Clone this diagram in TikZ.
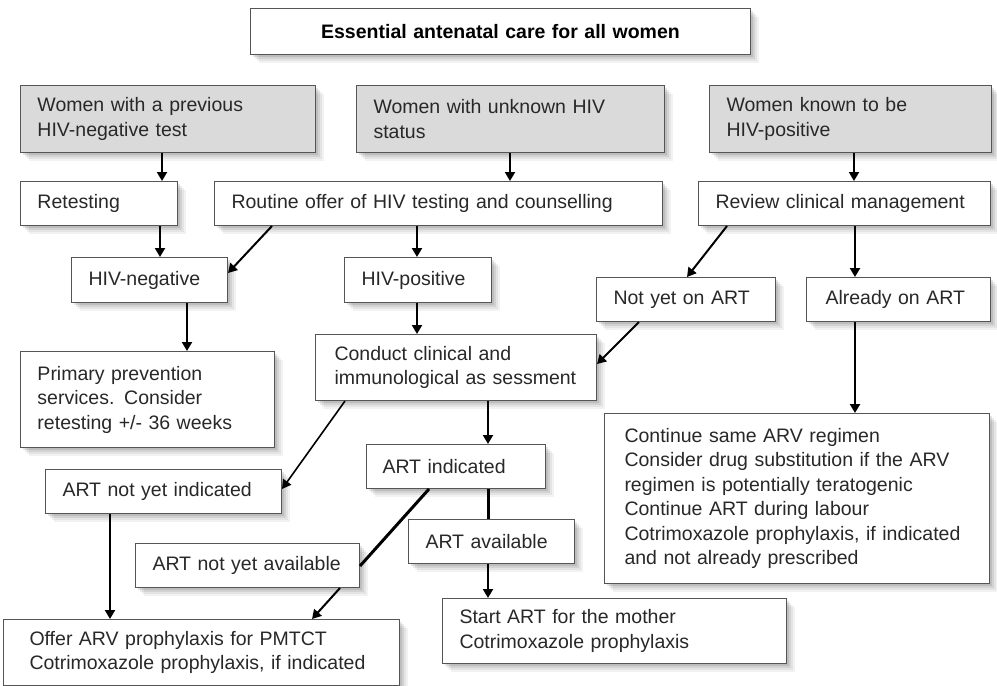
\documentclass[tikz,border=0pt]{standalone}
\usepackage{fontspec}
\setmainfont{Liberation Sans}
\usetikzlibrary{arrows.meta,shadows}
\definecolor{boxgray}{RGB}{218,218,218}
\definecolor{edgegray}{RGB}{85,85,85}
\definecolor{inkgray}{RGB}{40,40,40}
\begin{document}
\begin{tikzpicture}
[x=1pt,y=-1pt,
 box/.style={draw=edgegray,line width=1pt,fill=white,text=inkgray,anchor=north west,
   inner xsep=17pt,inner ysep=0pt,align=left,font=\fontsize{19.5}{24.5}\selectfont,
   drop shadow={shadow xshift=8pt,shadow yshift=-8pt,opacity=.05,fill=black},
   drop shadow={shadow xshift=6pt,shadow yshift=-6pt,opacity=.06,fill=black},
   drop shadow={shadow xshift=4pt,shadow yshift=-4pt,opacity=.08,fill=black},
   drop shadow={shadow xshift=2pt,shadow yshift=-2pt,opacity=.10,fill=black}},
 group/.style={box,fill=boxgray},
 arrowline/.style={line width=2pt,-{Triangle[length=9pt,width=10pt]}},
 thickline/.style={line width=3pt}]
\useasboundingbox (0,0) rectangle (997,686);
%% the three groups of women
\node[box,align=center,text width=466pt,minimum height=46pt,text=black,
  font=\fontsize{19.5}{24}\selectfont\bfseries] (title) at (250,8) {Essential antenatal care for all women};
\node[group,text width=261pt,minimum height=67pt] (prevneg) at (20,85) {Women with a previous\\HIV-negative test};
\node[group,text width=274pt,minimum height=67pt] (unknown) at (356,85) {Women with unknown HIV\\status};
\node[group,text width=248pt,minimum height=67pt] (known) at (709,85) {Women known to be\\HIV-positive};
%% testing and review
\node[box,text width=123pt,minimum height=44pt] (retest) at (20,181) {Retesting};
\node[box,text width=414pt,minimum height=44pt] (routine) at (214,181) {Routine offer of HIV testing and counselling};
\node[box,text width=258pt,minimum height=44pt] (review) at (698,181) {Review clinical management};
\node[box,inner xsep=17pt,text width=122pt,minimum height=45pt] (hivneg) at (71,257) {HIV-negative};
\node[box,inner xsep=17pt,text width=113pt,minimum height=45pt] (hivpos) at (344,257) {HIV-positive};
\node[box,text width=145pt,minimum height=44pt] (notyet) at (596,277) {Not yet on ART};
\node[box,inner xsep=19pt,text width=146pt,minimum height=44pt] (already) at (806,277) {Already on ART};
%% follow-up
\node[box,text width=220pt,minimum height=96pt] (prevention) at (20,351) {Primary prevention\\services. Consider\\retesting +/- 36 weeks};
\node[box,inner xsep=19pt,text width=243pt,minimum height=66pt] (conduct) at (315,334) {Conduct clinical and\\immunological as sessment};
\node[box,inner xsep=20pt,text width=345pt,minimum height=170pt] (continue) at (604,413)
  {Continue same ARV regimen\\Consider drug substitution if the ARV\\regimen is potentially teratogenic\\Continue ART during labour\\Cotrimoxazole prophylaxis, if indicated\\and not already prescribed};
\node[box,text width=202pt,minimum height=44pt] (notind) at (45,469) {ART not yet indicated};
\node[box,inner xsep=16pt,text width=147pt,minimum height=44pt] (artind) at (366,444) {ART indicated};
\node[box,inner xsep=17pt,text width=132pt,minimum height=44pt] (artavail) at (408,519) {ART available};
\node[box,text width=190pt,minimum height=44pt] (notavail) at (135,543) {ART not yet available};
\node[box,inner xsep=26pt,text width=344pt,minimum height=66pt] (offer) at (3,619) {Offer ARV prophylaxis for PMTCT\\Cotrimoxazole prophylaxis, if indicated};
\node[box,text width=310pt,minimum height=65pt] (start) at (442,598) {Start ART for the mother\\Cotrimoxazole prophylaxis};
%% straight arrows
\foreach \from/\to/\x in {prevneg/retest/162, unknown/routine/510, known/review/854,
  retest/hivneg/160, routine/hivpos/417, hivneg/prevention/187, hivpos/conduct/417,
  conduct/artind/488, artavail/start/488, notind/offer/110} {
  \draw[arrowline] (\from.south -| \x,0) -- (\to.north -| \x,0);
}
\foreach \from/\to in {review/already, already/continue} {
  \draw[arrowline,line width=2.8pt] (\from.south -| 855,0) -- (\to.north -| 855,0);
}
%% slanted arrows
\draw[arrowline] (routine.south -| 272,0) -- (hivneg.east |- 0,273);
\draw[arrowline] (review.south -| 727,0) -- (notyet.north -| 687,0);
\draw[arrowline] (notyet.south -| 639,0) -- (conduct.east |- 0,364);
\draw[arrowline,line width=1.6pt] (conduct.south -| 345,0) -- (notind.east |- 0,489);
\draw[thickline] (artind.south -| 488,0) -- (artavail.north -| 488,0);
\draw[thickline] (artind.south -| 429,0) -- (notavail.east |- 0,566);
\draw[arrowline] (notavail.south -| 340,0) -- (offer.north -| 312,0);
\end{tikzpicture}
\end{document}
